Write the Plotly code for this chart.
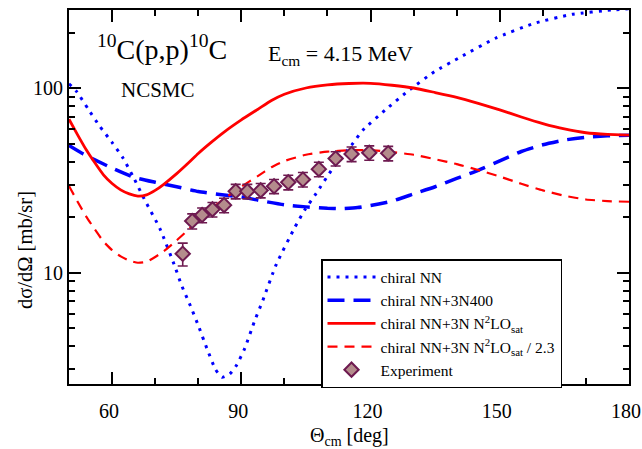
import plotly.graph_objects as go

# ---------------- data ----------------
theta_nn = [50, 51.8, 54.5, 57.2, 59.9, 62.6, 64.9, 67.6, 71.1, 74.6, 76.1, 78.1, 80, 82,
            84, 85.5, 87.3, 88.9, 90.8, 93.1, 95, 98.1, 102.4, 104.7, 107.4, 111.2, 115.6,
            118.2, 123.6, 129, 134.8, 140.9, 149, 157.9, 166.8, 176, 180]
sig_nn = [106, 96, 77, 62, 51.3, 41.7, 33.2, 24.8, 17.4, 10.8, 8.6, 6.7, 5.2, 3.9,
          3.0, 2.72, 2.83, 3.16, 3.9, 5.5, 7.1, 11.1, 17.6, 21.9, 27, 36.8, 49.3,
          59.4, 77, 98, 123, 148, 187, 225, 252, 266, 270]

theta_3n400 = [50, 53, 56, 60, 65, 70, 75, 80, 85, 90, 95, 100, 105, 110, 113, 117, 120,
               125, 130, 135, 140, 145, 150, 155, 160, 165, 170, 175, 180]
sig_3n400 = [49, 44.5, 41, 37, 33, 31, 29.3, 27.6, 26.6, 25.8, 24.5, 23.4, 22.8, 22.4, 22.3,
             22.6, 23.2, 24.5, 26.8, 29.3, 32.5, 36, 40.5, 45.5, 49.5, 52.5, 54.3, 55.3, 55.8]

theta_sat = [50, 52, 54, 56, 58, 60, 62, 64, 66, 68, 70, 72, 75, 78, 80, 83, 86, 90, 94, 97,
             100, 105, 110, 115, 120, 125, 130, 135, 140, 145, 150, 155, 160, 165, 170, 175, 180]
sig_sat = [68, 56, 46.5, 39.5, 34, 30.5, 28.2, 26.8, 26.1, 26.5, 28, 30.2, 34.5, 40, 44.4, 51,
           58, 67.5, 77.5, 86, 93, 100.5, 104.5, 106.3, 106.5, 104, 100.5, 95, 89.5, 83, 76.5,
           70, 64.5, 60.3, 57.5, 56.3, 55.8]

theta_sat_scaled = theta_sat
sig_sat_scaled = [29.6, 24.3, 20.2, 17.2, 14.8, 13.3, 12.3, 11.65, 11.35, 11.5, 12.2, 13.1,
                  15.0, 17.4, 19.3, 22.2, 25.2, 29.3, 33.7, 37.4, 40.4, 43.7, 45.4, 46.2,
                  46.3, 45.2, 43.7, 41.3, 38.9, 36.1, 33.3, 30.4, 28.0, 26.2, 25.0, 24.5, 24.3]

theta_exp = [76.4, 78.6, 80.9, 83.3, 86.0, 88.7, 91.4, 94.5, 97.6, 100.9, 104.3, 108.0,
             111.9, 115.6, 119.7, 124.1]
sig_exp = [12.7, 19.1, 20.6, 22.1, 23.3, 27.7, 27.7, 28.0, 29.5, 31.0, 32.1, 36.5,
           41.7, 44.1, 44.8, 44.5]
err_exp = [1.8, 1.8, 1.9, 2.0, 2.1, 2.5, 2.5, 2.5, 2.6, 2.8, 2.9, 3.3, 3.7, 4.0, 4.0, 4.0]

x_ticks = [60, 90, 120, 150, 180]
y_ticks = [10, 100]

# ---------------- figure ----------------
FONT = "Liberation Serif"
W, H = 642, 449
L, R, T, B = 69, 13, 10, 65
PW, PH = W - L - R, H - T - B


def px(xp):
    return (xp - L) / PW


def py(yp):
    return (H - B - yp) / PH


fig = go.Figure()
fig.add_trace(go.Scatter(x=theta_nn, y=sig_nn, mode="lines", name="chiral NN",
                         line=dict(color="#0000ff", width=3, dash="3px,6px", shape="spline",
                                   smoothing=0.5)))
fig.add_trace(go.Scatter(x=theta_3n400, y=sig_3n400, mode="lines", name="chiral NN+3N400",
                         line=dict(color="#0000ff", width=3.5, dash="17px,9px", shape="spline",
                                   smoothing=0.5)))
fig.add_trace(go.Scatter(x=theta_sat, y=sig_sat, mode="lines",
                         name="chiral NN+3N N<sup>2</sup>LO<sub>sat</sub>",
                         line=dict(color="#ff0000", width=2.8, shape="spline", smoothing=0.5)))
fig.add_trace(go.Scatter(x=theta_sat_scaled, y=sig_sat_scaled, mode="lines",
                         name="chiral NN+3N N<sup>2</sup>LO<sub>sat</sub> / 2.3",
                         line=dict(color="#ff0000", width=2.2, dash="10px,7px", shape="spline",
                                   smoothing=0.5)))
fig.add_trace(go.Scatter(x=theta_exp, y=sig_exp, mode="markers", name="Experiment",
                         marker=dict(symbol="diamond", size=11, color="#b48c8c",
                                     line=dict(color="#6e1a50", width=2)),
                         error_y=dict(type="data", array=err_exp, color="#6e1a50",
                                      thickness=1.6, width=5)))

axis_common = dict(showline=True, linecolor="black", linewidth=2, mirror="allticks",
                   ticks="inside", tickcolor="black", tickwidth=2, ticklen=12,
                   showgrid=False, zeroline=False, ticklabeloverflow="allow",
                   automargin=False,
                   tickfont=dict(family=FONT, size=20, color="black"))

fig.update_xaxes(range=[50, 180], tickmode="array", tickvals=x_ticks, ticklabelstandoff=8,
                 ticklabelshift=-3,
                 minor=dict(ticks="inside", ticklen=6, tickwidth=1.5, tickcolor="black",
                            dtick=10, tick0=50, showgrid=False),
                 **axis_common)
fig.update_yaxes(type="log", range=[0.39794, 2.4249], tickmode="array", tickvals=y_ticks,
                 minor=dict(ticks="inside", ticklen=6, tickwidth=1.5, tickcolor="black",
                            tickmode="array",
                            tickvals=[3, 4, 5, 6, 7, 8, 9, 20, 30, 40, 50, 60, 70, 80, 90, 200],
                            showgrid=False),
                 **axis_common)

ann = [
    dict(text="<sup>10</sup>C(p,p)<sup>10</sup>C", x=px(162), y=py(48), size=28),
    dict(text="E<sub>cm</sub> = 4.15 MeV", x=px(340), y=py(55), size=22),
    dict(text="NCSMC", x=px(158), y=py(90), size=21),
    dict(text="Θ<sub>cm</sub> [deg]", x=px(349), y=py(437), size=20),
]
for a in ann:
    fig.add_annotation(text=a["text"], x=a["x"], y=a["y"], xref="paper", yref="paper",
                       showarrow=False, xanchor="center", yanchor="middle",
                       font=dict(family=FONT, size=a["size"], color="black"))
fig.add_annotation(text="dσ/dΩ [mb/sr]", x=px(25), y=py(250), xref="paper", yref="paper",
                   showarrow=False, textangle=-90, xanchor="center", yanchor="middle",
                   font=dict(family=FONT, size=20.5, color="black"))

fig.update_layout(
    width=W, height=H, margin=dict(l=L, r=R, t=T, b=B, autoexpand=False),
    paper_bgcolor="white", plot_bgcolor="white",
    showlegend=True,
    legend=dict(x=px(321), y=py(259), xanchor="left", yanchor="top",
                bgcolor="white", bordercolor="black", borderwidth=1.5,
                font=dict(family=FONT, size=15.5, color="black"),
                tracegroupgap=0, itemwidth=48),
)

fig.write_html("out.html", config={"displayModeBar": False},
               post_script="document.documentElement.style.overflow='hidden';"
                           "document.body.style.margin='0';"
                           "document.body.style.overflow='hidden';")
